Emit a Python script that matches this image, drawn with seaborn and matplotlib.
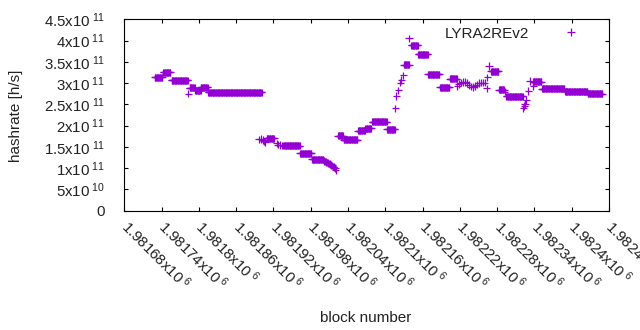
import numpy as np
import pandas as pd
import matplotlib
matplotlib.use("Agg")
import matplotlib.pyplot as plt
import seaborn as sns

# ---- data (hashrate in units of 1e11 h/s) ----
# runs of consecutive blocks sharing the same hashrate estimate
run_start = [1981729, 1981743, 1981756, 1981785, 1981794, 1981803, 1981815,
             1981909, 1981936, 1981963, 1981982, 1982024, 1982033, 1982056,
             1982068, 1982079, 1982103, 1982130, 1982142, 1982153, 1982169,
             1982188, 1982204, 1982270, 1982283, 1982295, 1982338, 1982352,
             1982389, 1982426]
run_end = [1981741, 1981754, 1981782, 1981793, 1981803, 1981814, 1981901,
           1981921, 1981962, 1981981, 1982000, 1982032, 1982055, 1982067,
           1982077, 1982102, 1982115, 1982138, 1982152, 1982168, 1982187,
           1982203, 1982215, 1982282, 1982291, 1982321, 1982351, 1982388,
           1982425, 1982449]
run_value = [3.134, 3.254, 3.066, 2.896, 2.828, 2.901, 2.779,
             1.704, 1.526, 1.349, 1.204, 1.768, 1.669, 1.883,
             1.937, 2.092, 1.911, 3.437, 3.886, 3.677, 3.207,
             2.903, 3.108, 3.273, 2.847, 2.690, 3.030, 2.873,
             2.807, 2.751]

# individual blocks
single_block = [1981783,
                1981897, 1981900, 1981903, 1981905, 1981907,
                1981925, 1981927, 1981930, 1981934,
                1982001, 1982003, 1982004, 1982006, 1982008, 1982009, 1982011,
                1982012, 1982014, 1982016, 1982017, 1982019, 1982020,
                1982116, 1982118, 1982121, 1982124, 1982126, 1982129,
                1982138,
                1982216, 1982218, 1982222, 1982225, 1982228, 1982231, 1982234,
                1982238, 1982241, 1982244, 1982247, 1982251, 1982254, 1982257,
                1982260,
                1982263, 1982264, 1982267,
                1982292,
                1982322, 1982324, 1982325, 1982327, 1982330, 1982333, 1982338]
single_value = [2.751,
                1.674, 1.686, 1.662, 1.627, 1.615,
                1.580, 1.556, 1.545, 1.533,
                1.168, 1.157, 1.145, 1.133, 1.121, 1.110, 1.098,
                1.074, 1.063, 1.039, 1.027, 1.004, 0.957,
                2.407, 2.697, 2.833, 3.014, 3.073, 3.179,
                4.053,
                2.932, 2.979, 3.014, 3.026, 3.026, 3.002, 2.955,
                2.920, 2.908, 2.932, 2.967, 3.002, 3.014, 3.014,
                3.014,
                2.878, 3.136, 3.402,
                2.802,
                2.407, 2.461, 2.509, 2.603, 2.814, 3.049, 2.932]

series_name = "LYRA2REv2"

x_ticks = [1981680, 1981740, 1981800, 1981860, 1981920, 1981980, 1982040,
           1982100, 1982160, 1982220, 1982280, 1982340, 1982400, 1982460]
x_tick_mantissa = ["1.98168", "1.98174", "1.9818", "1.98186", "1.98192",
                   "1.98198", "1.98204", "1.9821", "1.98216", "1.98222",
                   "1.98228", "1.98234", "1.9824", "1.98246"]
x_tick_exp = "6"
y_ticks = [0, 0.5e11, 1e11, 1.5e11, 2e11, 2.5e11, 3e11, 3.5e11, 4e11, 4.5e11]
y_tick_mantissa = ["0", "5", "1", "1.5", "2", "2.5", "3", "3.5", "4", "4.5"]
y_tick_exp = ["", "10", "11", "11", "11", "11", "11", "11", "11", "11"]

# ---- build table (expand run-length encoded blocks) ----
blocks, values = [], []
for s, e, v in zip(run_start, run_end, run_value):
    for b in range(s, e + 1):
        blocks.append(b)
        values.append(v * 1e11)
blocks += single_block
values += [v * 1e11 for v in single_value]
df = pd.DataFrame({"block": blocks, "hashrate": values,
                   "series": series_name})

# ---- style ----
sns.set_theme(style="white")
plt.rcParams["font.family"] = ["Liberation Sans", "DejaVu Sans"]
plt.rcParams["mathtext.fontset"] = "custom"
plt.rcParams["mathtext.rm"] = "Liberation Sans"
plt.rcParams["mathtext.it"] = "Liberation Sans"
plt.rcParams["mathtext.default"] = "regular"

fig = plt.figure(figsize=(6.4, 3.3), dpi=100)
ax = fig.add_axes([124.3 / 640, 1 - 210.7 / 330,
                   (609 - 124.3) / 640, (210.7 - 19.3) / 330])

color = "#9400D3"
sns.scatterplot(data=df, x="block", y="hashrate", hue="series",
                palette=[color], marker="+", s=28, linewidth=0.9,
                ax=ax, legend=True)

ax.set_xlim(1981680, 1982460)
ax.set_ylim(0, 4.5e11)

tick_fs = 10.8
ax.set_xticks(x_ticks)
ax.set_xticklabels([m + r"x10$^{\ %s}$" % x_tick_exp for m in x_tick_mantissa],
                   rotation=-45, ha="left", va="center",
                   rotation_mode="anchor", fontsize=tick_fs, color="#222222")
ax.set_yticks(y_ticks)
ax.set_yticklabels([m if e == "" else m + r"x10$^{\ %s}$" % e
                    for m, e in zip(y_tick_mantissa, y_tick_exp)],
                   fontsize=tick_fs, color="#222222")

ax.tick_params(axis="both", direction="in", length=3, width=0.8,
               top=True, right=True, bottom=True, left=True, color="black")
ax.tick_params(axis="y", pad=14)
ax.tick_params(axis="x", pad=9)
for sp in ax.spines.values():
    sp.set_visible(True)
    sp.set_color("black")
    sp.set_linewidth(0.8)

ax.set_xlabel("")
ax.set_ylabel("")
fig.text(366 / 640, 1 - 318 / 330, "block number", ha="center", va="center",
         fontsize=11, color="#222222")
fig.text(16 / 640, 1 - 116 / 330, "hashrate [h/s]", ha="center", va="center",
         rotation=90, fontsize=11, color="#222222")

ax.legend(loc="upper right", bbox_to_anchor=(0.945, 0.962), frameon=False,
          markerfirst=False, handlelength=1.5, handletextpad=2.0,
          borderpad=0, borderaxespad=0, fontsize=11,
          labelcolor="#222222")

fig.savefig("out.png", dpi=100, facecolor="white")
